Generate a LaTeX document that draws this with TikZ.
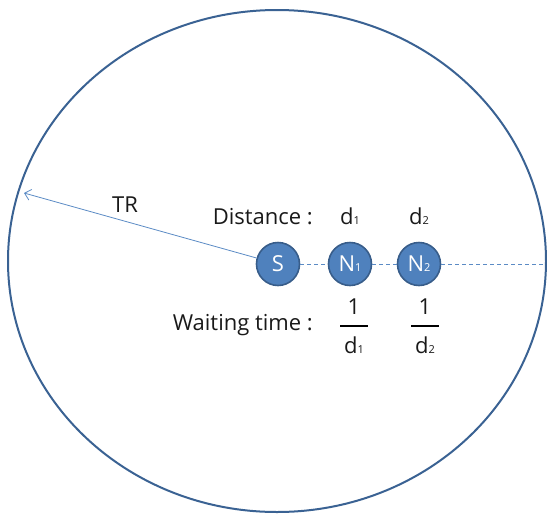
\documentclass[tikz,border=0pt]{standalone}
\usepackage{fontspec}
\setmainfont{Open Sans}
\usetikzlibrary{arrows.meta}
\definecolor{nodefill}{HTML}{4F81BD}
\definecolor{nodeedge}{HTML}{385D8A}
\definecolor{ringcol}{HTML}{3A6293}
\definecolor{thinline}{HTML}{5B8BC5}
\tikzset{
  sensor/.style={circle, fill=nodefill, draw=nodeedge, line width=1.6pt, minimum size=43pt, inner sep=0pt, text=white, font=\fontsize{22}{26}\selectfont},
  lbl/.style={inner sep=0pt, text=black!90, font=\fontsize{22}{26}\selectfont}
}
\newcommand{\sbs}[1]{{\fontsize{11}{11}\selectfont #1}}
\begin{document}
\begin{tikzpicture}[x=1pt,y=-1pt]
\useasboundingbox (0,0) rectangle (547,515);
\draw[ringcol, line width=2pt] (277,261) ellipse [x radius=269, y radius=251];
\coordinate (edge) at (24,193);
\coordinate (redge) at (546,264);
\node[sensor] (S) at (278,264) {S};
\node[sensor] (N1) at (350,264) {N\sbs{1}};
\node[sensor] (N2) at (419,264) {N\sbs{2}};
\draw[thinline, line width=0.9pt, dash pattern=on 4pt off 3pt] (S) -- (N1);
\draw[thinline, line width=0.9pt, dash pattern=on 4pt off 3pt] (N1) -- (N2);
\draw[thinline, line width=0.9pt, dash pattern=on 4pt off 3pt] (N2) -- (redge);
\draw[thinline, line width=0.8pt, -{Straight Barb[length=6pt,width=11pt]}] (S) -- (edge);
\node[lbl] (TR) at (125,205) {TR};
\node[lbl, anchor=east] (dist) at (313,217) {Distance :};
\node[lbl] (d1) at (350,216) {d\sbs{1}};
\node[lbl] (d2) at (419,216) {d\sbs{2}};
\node[lbl, anchor=east] (wait) at (313,325) {Waiting time :};
\node[lbl] (n1) at (354,307) {1};
\node[lbl] (m1) at (354,345) {d\sbs{1}};
\node[lbl] (n2) at (425,307) {1};
\node[lbl] (m2) at (425,345) {d\sbs{2}};
\coordinate (b1l) at (340,326); \coordinate (b1r) at (368,326);
\coordinate (b2l) at (411,326); \coordinate (b2r) at (439,326);
\draw[black, line width=1.8pt] (b1l) -- (b1r);
\draw[black, line width=1.8pt] (b2l) -- (b2r);
\end{tikzpicture}
\end{document}
